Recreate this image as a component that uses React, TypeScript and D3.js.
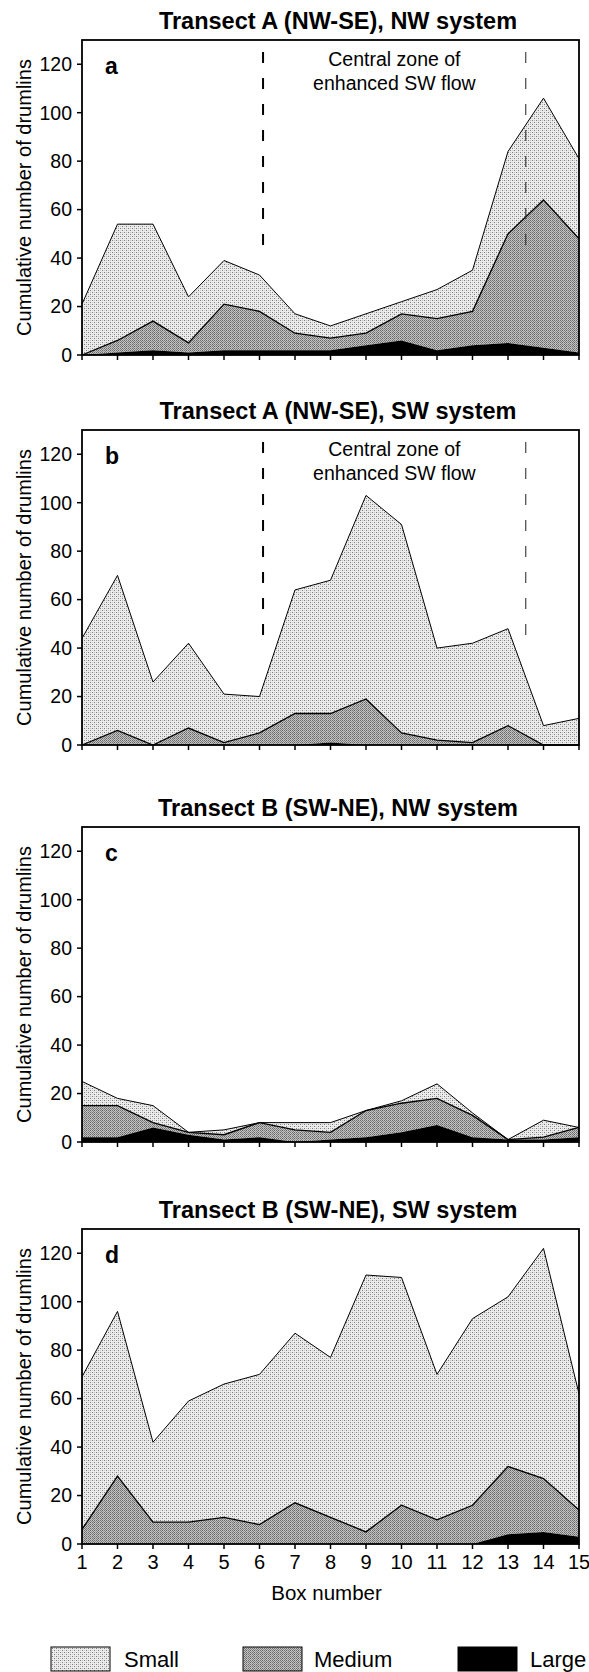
import React from "react";
import * as d3 from "d3";

// box numbers along each transect
const boxNumbers = [1, 2, 3, 4, 5, 6, 7, 8, 9, 10, 11, 12, 13, 14, 15];
const yTicks = [0, 20, 40, 60, 80, 100, 120];

// a: Transect A (NW-SE), NW system
const aSmall = [21, 48, 40, 19, 18, 15, 8, 5, 8, 5, 12, 17, 34, 42, 33];
const aMedium = [0, 5, 12, 4, 19, 16, 7, 5, 5, 11, 13, 14, 45, 61, 47];
const aLarge = [0, 1, 2, 1, 2, 2, 2, 2, 4, 6, 2, 4, 5, 3, 1];

// b: Transect A (NW-SE), SW system
const bSmall = [44, 64, 26, 35, 20, 15, 51, 55, 84, 86, 38, 41, 40, 8, 11];
const bMedium = [0, 6, 0, 7, 1, 5, 13, 12, 19, 5, 2, 1, 8, 0, 0];
const bLarge = [0, 0, 0, 0, 0, 0, 0, 1, 0, 0, 0, 0, 0, 0, 0];

// c: Transect B (SW-NE), NW system
const cSmall = [10, 3, 7, 0, 2, 0, 3, 4, 0, 1, 6, 1, 0, 7, 0];
const cMedium = [13, 13, 2, 1, 2, 6, 5, 3, 11, 12, 11, 9, 0, 1, 4];
const cLarge = [2, 2, 6, 3, 1, 2, 0, 1, 2, 4, 7, 2, 1, 1, 2];

// d: Transect B (SW-NE), SW system
const dSmall = [63, 68, 33, 50, 55, 62, 70, 66, 106, 94, 60, 77, 70, 95, 48];
const dMedium = [6, 28, 9, 9, 11, 8, 17, 11, 5, 16, 10, 16, 28, 22, 11];
const dLarge = [0, 0, 0, 0, 0, 0, 0, 0, 0, 0, 0, 0, 4, 5, 3];

// central zone markers (box positions) for transect A
const zoneBounds = [6.1, 13.5];
const zoneRange = [44, 125];

const panels = [
  {title: "Transect A (NW-SE), NW system", letter: "a", small: aSmall, medium: aMedium, large: aLarge, zone: true, top: 40},
  {title: "Transect A (NW-SE), SW system", letter: "b", small: bSmall, medium: bMedium, large: bLarge, zone: true, top: 430},
  {title: "Transect B (SW-NE), NW system", letter: "c", small: cSmall, medium: cMedium, large: cLarge, zone: false, top: 827},
  {title: "Transect B (SW-NE), SW system", letter: "d", small: dSmall, medium: dMedium, large: dLarge, zone: false, top: 1229},
];

const W = 589, H = 1672;
const left = 82, right = 579, plotH = 315;
const font = "'Liberation Sans', Arial, Helvetica, sans-serif";

const x = d3.scaleLinear().domain([1, 15]).range([left, right]);

const Panel = ({p, last}) => {
  const y = d3.scaleLinear().domain([0, 130]).range([p.top + plotH, p.top]);
  const rows = boxNumbers.map((b, i) => ({box: b, large: p.large[i], medium: p.medium[i], small: p.small[i]}));
  const series = d3.stack().keys(["large", "medium", "small"])(rows);
  const area = d3.area().x(d => x(d.data.box)).y0(d => y(d[0])).y1(d => y(d[1]));
  const line = d3.line().x(d => x(d.data.box)).y(d => y(d[1]));
  const fills = ["#000", "url(#medPat)", "url(#smallPat)"];
  const bottom = y(0);

  return (
    <g>
      <text x={338} y={p.top - 11} textAnchor="middle" fontSize={23.5} fontWeight="bold" fontFamily={font}>{p.title}</text>
      {series.slice().reverse().map((s, k) => (
        <path key={s.key} d={area(s)} fill={fills[2 - k]} stroke="none"/>
      ))}
      <path d={line(series[2])} fill="none" stroke="#000" strokeWidth={1}/>
      <path d={line(series[1])} fill="none" stroke="#000" strokeWidth={1.3}/>
      {p.zone && zoneBounds.map((b, i) => (
        <line key={i} x1={x(b)} x2={x(b)} y1={y(zoneRange[1])} y2={y(zoneRange[0])}
              stroke={i === 0 ? "#000" : "#333"} strokeWidth={i === 0 ? 2 : 1.1} strokeDasharray="11,15"/>
      ))}
      {p.zone && (
        <text x={x(9.8)} fontSize={19.5} fontFamily={font} textAnchor="middle">
          <tspan x={x(9.8)} y={p.top + 26}>Central zone of</tspan>
          <tspan x={x(9.8)} y={p.top + 50}>enhanced SW flow</tspan>
        </text>
      )}
      <text x={105} y={p.top + 34} fontSize={23} fontWeight="bold" fontFamily={font}>{p.letter}</text>
      <rect x={left} y={p.top} width={right - left} height={plotH} fill="none" stroke="#000" strokeWidth={1.8}/>
      {yTicks.map(t => (
        <g key={t}>
          <line x1={left - 5} x2={left} y1={y(t)} y2={y(t)} stroke="#000" strokeWidth={1.5}/>
          <text x={72} y={y(t)} dy="0.35em" textAnchor="end" fontSize={19.5} fontFamily={font}>{t}</text>
        </g>
      ))}
      {boxNumbers.map(b => (
        <line key={b} x1={x(b)} x2={x(b)} y1={bottom} y2={bottom + 5} stroke="#000" strokeWidth={1.5}/>
      ))}
      {last && boxNumbers.map(b => (
        <text key={b} x={x(b)} y={bottom + 25} textAnchor="middle" fontSize={20} fontFamily={font}>{b}</text>
      ))}
      <text transform={`translate(31,${p.top + plotH / 2}) rotate(-90)`} textAnchor="middle" fontSize={20} fontFamily={font}>
        Cumulative number of drumlins
      </text>
    </g>
  );
};

const legendItems = [
  {label: "Small", fill: "url(#smallPat)", bx: 51, tx: 124},
  {label: "Medium", fill: "url(#medPat)", bx: 243, tx: 314},
  {label: "Large", fill: "#000", bx: 458, tx: 530},
];

export default function App() {
  return (
    <svg width={W} height={H} style={{position: "absolute", left: 0, top: 0, background: "#fff"}}>
      <defs>
        <pattern id="smallPat" width={4} height={4} patternUnits="userSpaceOnUse">
          <rect width={4} height={4} fill="#ececec"/>
          <rect x={0} y={0} width={1} height={1} fill="#7c7c7c"/>
          <rect x={2} y={2} width={1} height={1} fill="#7c7c7c"/>
          <rect x={2} y={0} width={1} height={1} fill="#bdbdbd"/>
          <rect x={0} y={2} width={1} height={1} fill="#d0d0d0"/>
        </pattern>
        <pattern id="medPat" width={4} height={4} patternUnits="userSpaceOnUse">
          <rect width={4} height={4} fill="#c4c4c4"/>
          <rect x={0} y={0} width={1} height={1} fill="#666"/>
          <rect x={2} y={0} width={1} height={1} fill="#6e6e6e"/>
          <rect x={1} y={1} width={1} height={1} fill="#777"/>
          <rect x={3} y={1} width={1} height={1} fill="#888"/>
          <rect x={0} y={2} width={1} height={1} fill="#707070"/>
          <rect x={2} y={2} width={1} height={1} fill="#5e5e5e"/>
          <rect x={1} y={3} width={1} height={1} fill="#7a7a7a"/>
          <rect x={3} y={3} width={1} height={1} fill="#9a9a9a"/>
        </pattern>
      </defs>
      {panels.map((p, i) => <Panel key={p.letter} p={p} last={i === panels.length - 1}/>)}
      <text x={(left + right) / 2 - 4} y={1600} textAnchor="middle" fontSize={20.5} fontFamily={font}>Box number</text>
      {legendItems.map(l => (
        <g key={l.label}>
          <rect x={l.bx} y={1647} width={59} height={24} fill={l.fill} stroke="#000" strokeWidth={1}/>
          <text x={l.tx} y={1667} fontSize={22} fontFamily={font}>{l.label}</text>
        </g>
      ))}
    </svg>
  );
}
